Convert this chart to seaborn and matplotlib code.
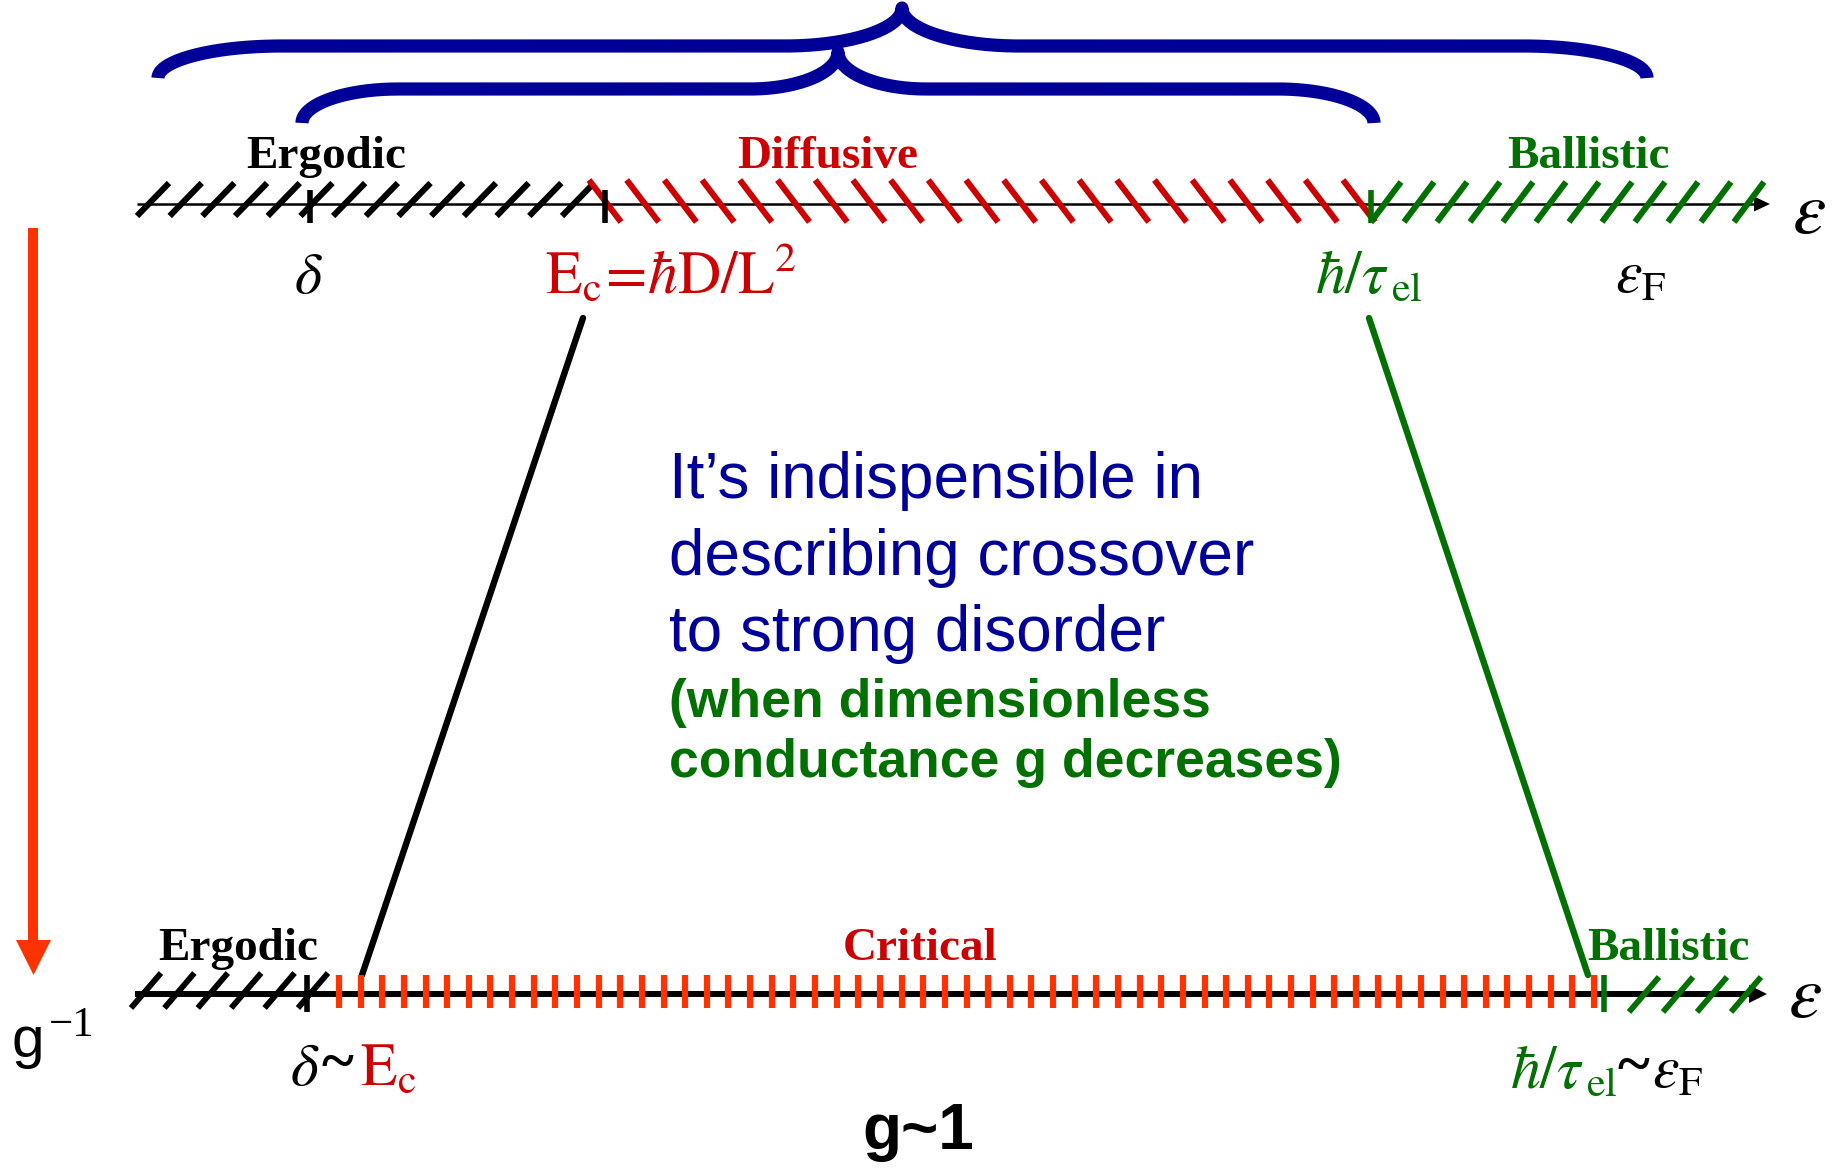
import numpy as np
import matplotlib
matplotlib.use("Agg")
import matplotlib.pyplot as plt
from matplotlib.collections import LineCollection
import pandas as pd
import seaborn as sns

# energy scale (canvas px along the axis) -- weak disorder (top row)
top_regions = ["Ergodic", "Diffusive", "Ballistic"]
top_region_x = [326, 828, 1588]
top_bounds = [137, 605, 1371, 1765]          # axis start, Ec, hbar/tau_el, end
top_hatch_n = [14, 21, 12]
top_marks = [310, 605, 1371]                 # delta, Ec, hbar/tau_el

# g ~ 1 (bottom row)
bottom_regions = ["Ergodic", "Critical", "Ballistic"]
bottom_region_x = [238, 920, 1668]
bottom_bounds = [135, 307, 1604, 1765]       # axis start, delta~Ec, hbar/tau~eF, end
bottom_hatch_n = [6, 59, 4]
bottom_marks = [307, 1604]

# the two scales that move when g decreases
ec_path = [583, 362]
tau_path = [1369, 1588]

BLACK = "#000000"
RED = "#cc0000"
GREEN = "#007000"
ORANGE = "#ff3300"
BLUE = "#000099"

sns.set_theme(style="white")
plt.rcParams["mathtext.fontset"] = "stix"
plt.rcParams["font.family"] = ["Liberation Serif", "DejaVu Sans"]

W, H = 1838, 1168
fig = plt.figure(figsize=(W / 100, H / 100), dpi=100)
ax = fig.add_axes([0, 0, 1, 1])
ax.set_xlim(0, W)
ax.set_ylim(H, 0)
ax.axis("off")


def bez(p0, p1, p2, p3, n=40):
    t = np.linspace(0, 1, n)[:, None]
    p0, p1, p2, p3 = map(np.array, (p0, p1, p2, p3))
    return (1 - t) ** 3 * p0 + 3 * (1 - t) ** 2 * t * p1 + 3 * (1 - t) * t ** 2 * p2 + t ** 3 * p3


def brace(x0, x1, xc, ye, yh, yp, ra, rb):
    k = 0.552
    xa, xb = x0 + ra, xc - rb
    xd, xe = xc + rb, x1 - ra
    segs = [
        bez((x0, ye), (x0, ye - k * (ye - yh)), (xa - k * ra, yh), (xa, yh)),
        np.array([(xa, yh), (xb, yh)]),
        bez((xb, yh), (xb + k * rb, yh), (xc, yp + k * (yh - yp)), (xc, yp)),
        bez((xc, yp), (xc, yp + k * (yh - yp)), (xd - k * rb, yh), (xd, yh)),
        np.array([(xd, yh), (xe, yh)]),
        bez((xe, yh), (xe + k * ra, yh), (x1, ye - k * (ye - yh)), (x1, ye)),
    ]
    pts = np.vstack(segs)
    ax.plot(pts[:, 0], pts[:, 1], color=BLUE, lw=9.5, solid_capstyle="butt",
            solid_joinstyle="round")


brace(158, 1647, 902, 78, 46, 8, 123, 117)
brace(302, 1374, 838, 123, 89, 52, 96, 88)


def hatches(x_first, x_last, n, y_lo, y_hi, dx, color, lw, back=False):
    cs = np.linspace(x_first, x_last, n)
    if back:
        segs = [[(c - dx, y_hi), (c + dx, y_lo)] for c in cs]
    else:
        segs = [[(c - dx, y_lo), (c + dx, y_hi)] for c in cs]
    ax.add_collection(LineCollection(segs, colors=color, linewidths=lw,
                                     capstyle="butt"))


def axis_arrow(x0, x1, y, lw, head_l, head_w):
    ax.plot([x0, x1 - head_l + 2], [y, y], color=BLACK, lw=lw, solid_capstyle="butt")
    ax.fill([x1 - head_l, x1, x1 - head_l], [y - head_w / 2, y, y + head_w / 2],
            color=BLACK, lw=0)


# ---- top row -------------------------------------------------------------
y_top = 204
axis_arrow(top_bounds[0], 1770, y_top, 1.8, 16, 15)
hatches(top_bounds[0] + 16, top_bounds[1] - 27, top_hatch_n[0], 216, 183, 16, BLACK, 4.4)
hatches(top_bounds[1], top_bounds[2] - 12, top_hatch_n[1], 222, 180, 16, RED, 4.4, back=True)
hatches(top_bounds[2] + 15, top_bounds[3] - 16, top_hatch_n[2], 222, 182, 15, GREEN, 4.4)
for x, c in zip(top_marks, [BLACK, BLACK, GREEN]):
    ax.plot([x, x], [190, 223], color=c, lw=4.0, solid_capstyle="butt")

for name, x, c in zip(top_regions, top_region_x, [BLACK, RED, GREEN]):
    ax.text(x, 168, name, color=c, fontsize=34, fontweight="bold",
            ha="center", va="baseline")

ax.text(308, 293, r"$\delta$", color=BLACK, fontsize=42, ha="center", va="baseline")
ax.text(545, 293, r"$\mathrm{E_c}\!=\!\hbar\mathrm{D/L^2}$", color=RED, fontsize=43,
        ha="left", va="baseline")
ax.text(1315, 293, r"$\hbar/\tau_{\,\mathrm{el}}$", color=GREEN, fontsize=43,
        ha="left", va="baseline")
ax.text(1615, 293, r"$\varepsilon_{\mathrm{F}}$", color=BLACK, fontsize=43,
        ha="left", va="baseline")
ax.text(1792, 233, r"$\varepsilon$", color=BLACK, fontsize=54, ha="left", va="baseline")

# ---- connectors between the two rows ---------------------------------------
links = pd.DataFrame({
    "x": [ec_path[0], ec_path[1], tau_path[0], tau_path[1]],
    "y": [318, 975, 318, 975],
    "scale": ["Ec", "Ec", "tau", "tau"],
})
sns.lineplot(data=links, x="x", y="y", hue="scale", palette=[BLACK, GREEN],
             sort=False, lw=4.6, legend=False, ax=ax)

# ---- centre text -----------------------------------------------------------
blue_lines = ["It\u2019s indispensible in", "describing crossover", "to strong disorder"]
for s, yb in zip(blue_lines, [498, 575, 651]):
    ax.text(669, yb, s, color=BLUE, fontsize=46, family="Liberation Sans",
            ha="left", va="baseline")
green_lines = ["(when dimensionless", "conductance g decreases)"]
for s, yb in zip(green_lines, [717, 777]):
    ax.text(669, yb, s, color=GREEN, fontsize=38.5, family="Liberation Sans",
            fontweight="bold", ha="left", va="baseline")

# ---- bottom row ------------------------------------------------------------
y_bot = 994
axis_arrow(bottom_bounds[0], 1767, y_bot, 4.3, 18, 18)
hatches(146, 313, bottom_hatch_n[0], 1008, 973, 15, BLACK, 4.2)
ticks = np.linspace(339, 1594, bottom_hatch_n[1])
ax.add_collection(LineCollection([[(c, 975), (c, 1008)] for c in ticks],
                                 colors=ORANGE, linewidths=4.5, capstyle="butt"))
hatches(1644, 1746, bottom_hatch_n[2], 1012, 977, 15, GREEN, 4.2)
for x, c in zip(bottom_marks, [BLACK, GREEN]):
    ax.plot([x, x], [975, 1012], color=c, lw=4.0, solid_capstyle="butt")

for name, x, c in zip(bottom_regions, bottom_region_x, [BLACK, RED, GREEN]):
    ax.text(x, 960, name, color=c, fontsize=34, fontweight="bold",
            ha="center", va="baseline")

ax.text(290, 1085, r"$\delta$", color=BLACK, fontsize=43, ha="left", va="baseline")
ax.text(322, 1080, "~", color=BLACK, fontsize=44, fontweight="bold",
        ha="left", va="baseline")
ax.text(360, 1085, r"$\mathrm{E_c}$", color=RED, fontsize=43, ha="left", va="baseline")
ax.text(1510, 1088, r"$\hbar/\tau_{\,\mathrm{el}}$", color=GREEN, fontsize=43,
        ha="left", va="baseline")
ax.text(1618, 1083, "~", color=BLACK, fontsize=44, fontweight="bold",
        ha="left", va="baseline")
ax.text(1652, 1088, r"$\varepsilon_{\mathrm{F}}$", color=BLACK, fontsize=43,
        ha="left", va="baseline")
ax.text(1788, 1017, r"$\varepsilon$", color=BLACK, fontsize=54, ha="left", va="baseline")

ax.text(918, 1149, "g~1", color=BLACK, fontsize=46, family="Liberation Sans",
        fontweight="bold", ha="center", va="baseline")

# ---- disorder arrow --------------------------------------------------------
ax.plot([33, 33], [228, 942], color=ORANGE, lw=7.2, solid_capstyle="butt")
ax.fill([16, 51, 33.5], [940, 940, 975], color=ORANGE, lw=0)
ax.text(11, 1057, "g", color=BLACK, fontsize=42, family="Liberation Sans",
        ha="left", va="baseline")
ax.text(49, 1036, "\u22121", color=BLACK, fontsize=31, ha="left", va="baseline")

fig.savefig("out.png", dpi=100)
